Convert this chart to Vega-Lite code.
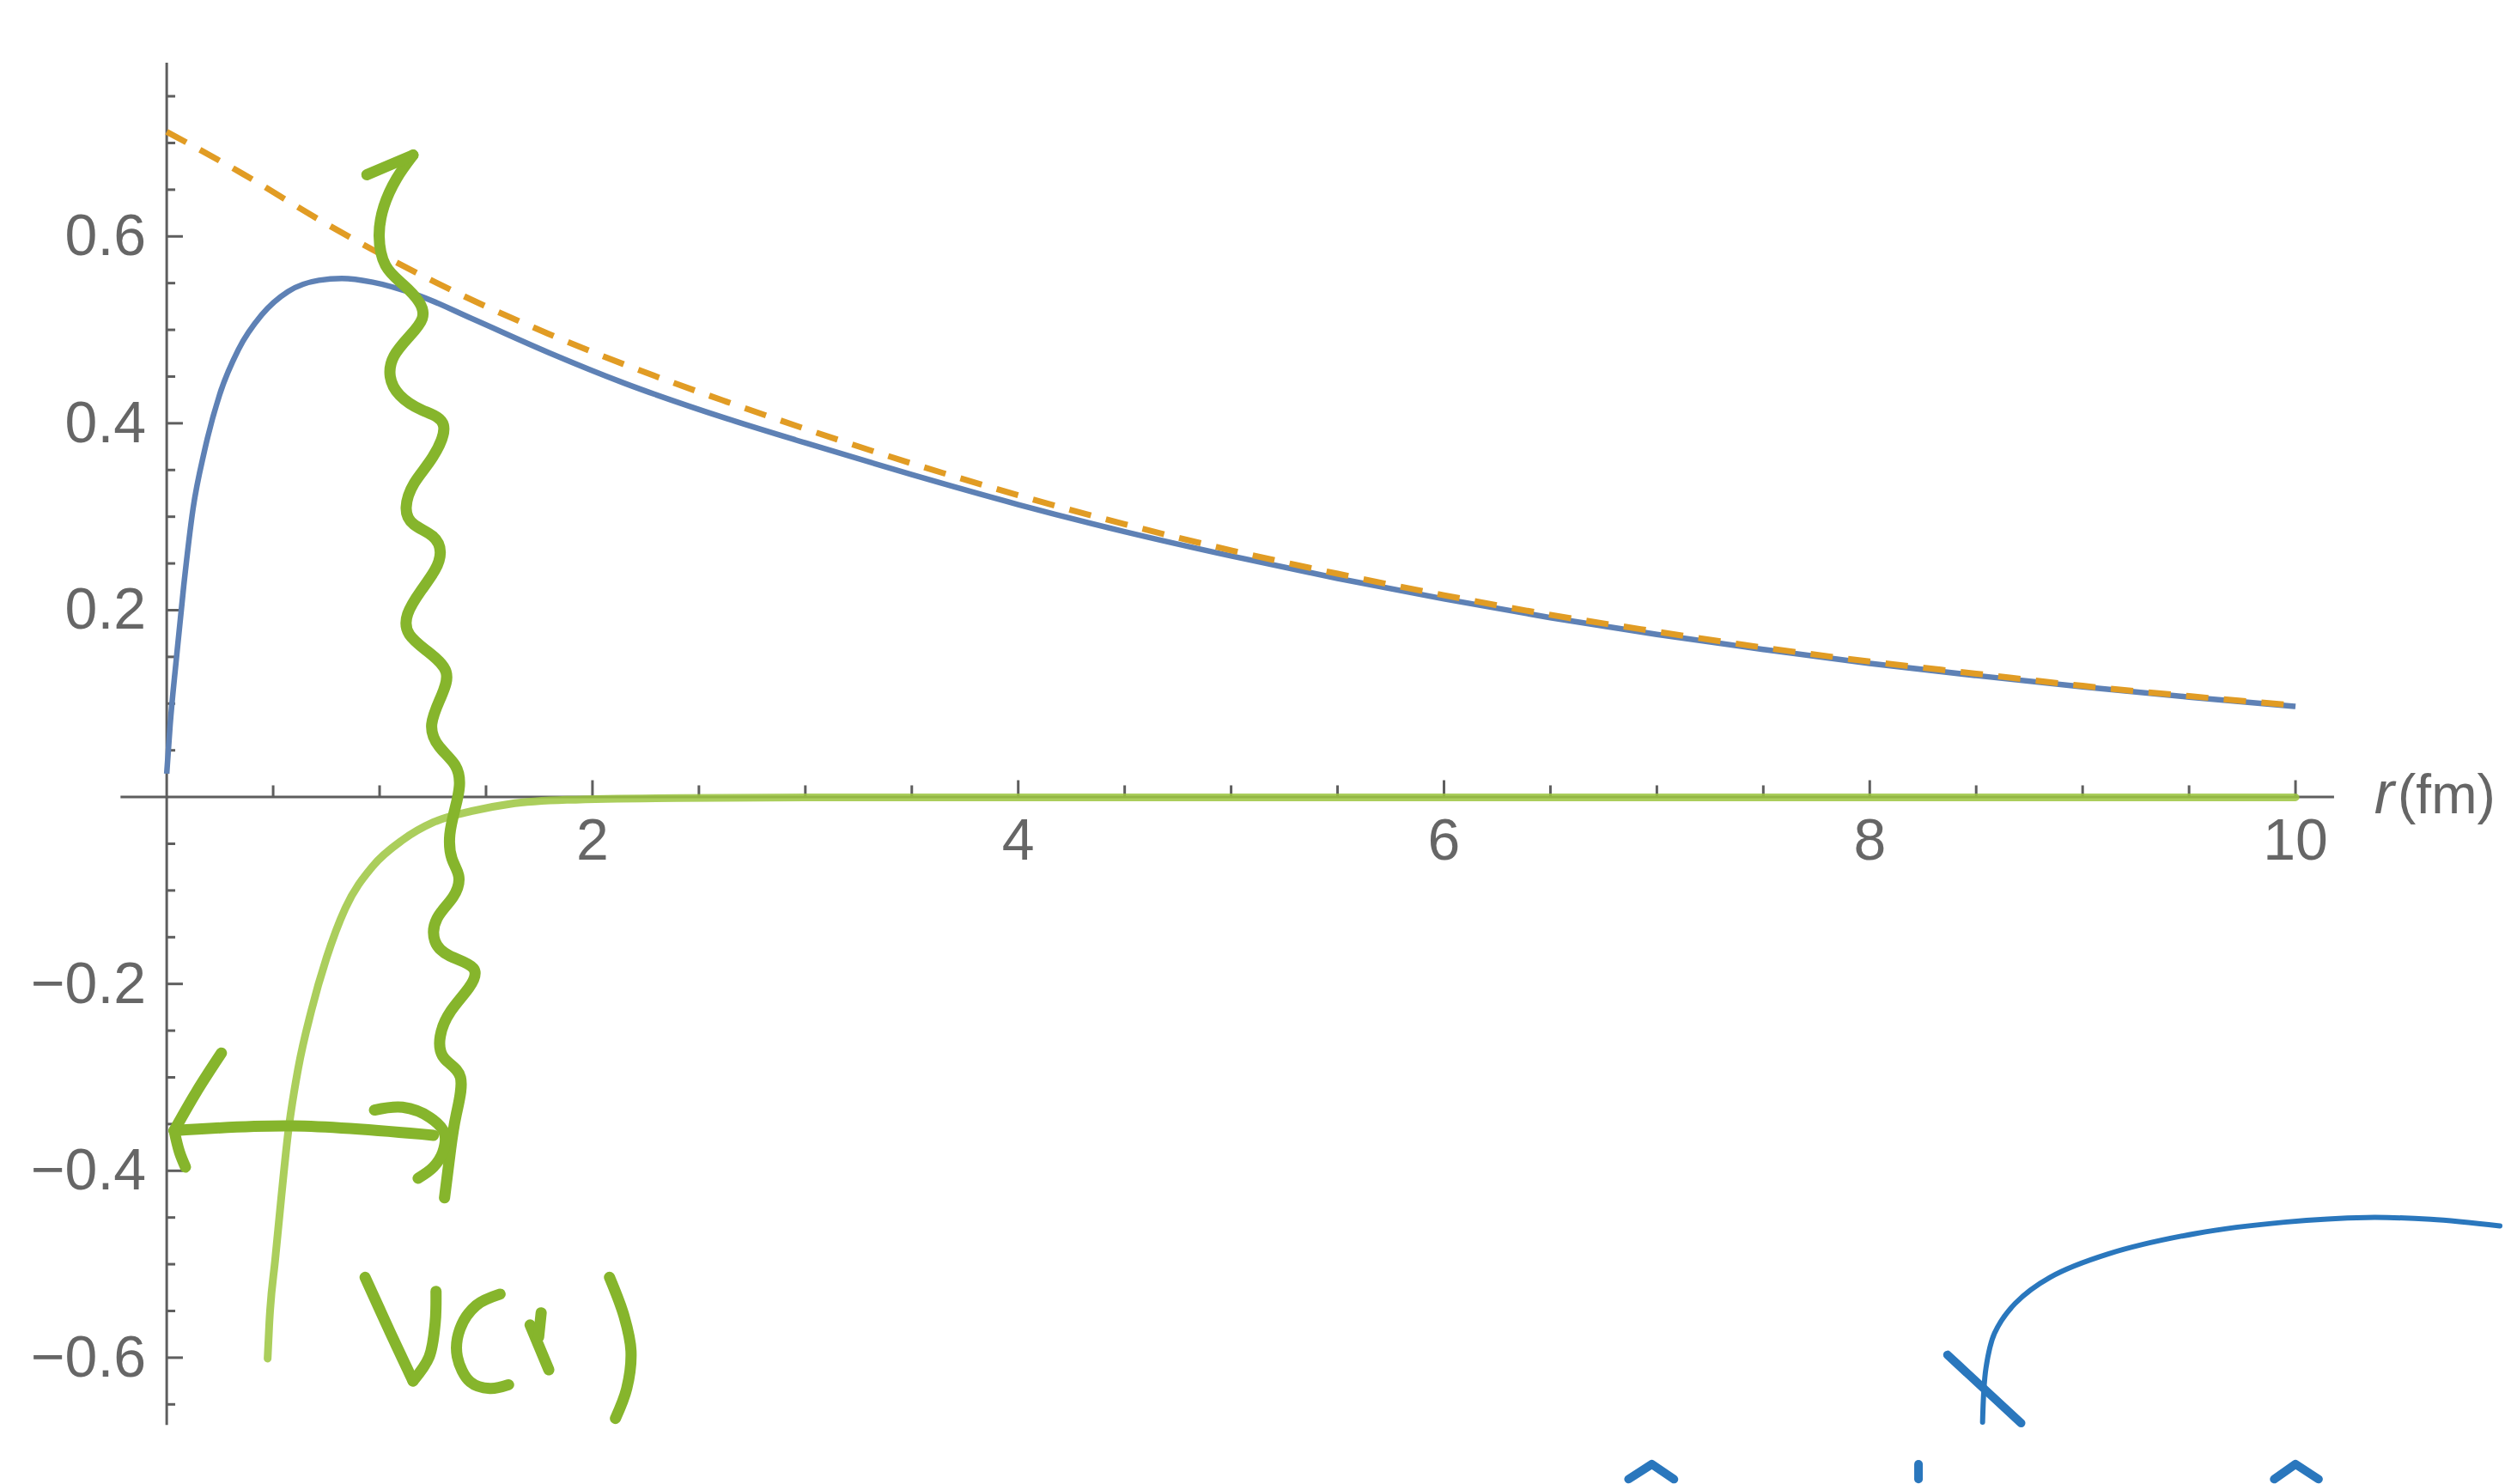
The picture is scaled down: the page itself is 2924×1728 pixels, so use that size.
{
  "$schema": "https://vega.github.io/schema/vega-lite/v6.json",
  "width": 2924,
  "height": 1728,
  "autosize": {"type": "fit", "contains": "padding"},
  "padding": 0,
  "background": "white",
  "config": {"view": {"stroke": null}},
  "datasets": {
    "axes": [
      {"r": -0.217, "v": 0, "r2": 10.181, "v2": 0},
      {"r": 0, "v": -0.672, "r2": 0, "v2": 0.786}
    ],
    "xticks": [
      {"r": 0.5, "v": 0, "k": "minor"}, {"r": 1, "v": 0, "k": "minor"}, {"r": 1.5, "v": 0, "k": "minor"},
      {"r": 2, "v": 0, "k": "major"},
      {"r": 2.5, "v": 0, "k": "minor"}, {"r": 3, "v": 0, "k": "minor"}, {"r": 3.5, "v": 0, "k": "minor"},
      {"r": 4, "v": 0, "k": "major"},
      {"r": 4.5, "v": 0, "k": "minor"}, {"r": 5, "v": 0, "k": "minor"}, {"r": 5.5, "v": 0, "k": "minor"},
      {"r": 6, "v": 0, "k": "major"},
      {"r": 6.5, "v": 0, "k": "minor"}, {"r": 7, "v": 0, "k": "minor"}, {"r": 7.5, "v": 0, "k": "minor"},
      {"r": 8, "v": 0, "k": "major"},
      {"r": 8.5, "v": 0, "k": "minor"}, {"r": 9, "v": 0, "k": "minor"}, {"r": 9.5, "v": 0, "k": "minor"},
      {"r": 10, "v": 0, "k": "major"}
    ],
    "yticks": [
      {"r": 0, "v": -0.65, "k": "minor"}, {"r": 0, "v": -0.6, "k": "major"}, {"r": 0, "v": -0.55, "k": "minor"},
      {"r": 0, "v": -0.5, "k": "minor"}, {"r": 0, "v": -0.45, "k": "minor"}, {"r": 0, "v": -0.4, "k": "major"},
      {"r": 0, "v": -0.35, "k": "minor"}, {"r": 0, "v": -0.3, "k": "minor"}, {"r": 0, "v": -0.25, "k": "minor"},
      {"r": 0, "v": -0.2, "k": "major"}, {"r": 0, "v": -0.15, "k": "minor"}, {"r": 0, "v": -0.1, "k": "minor"},
      {"r": 0, "v": -0.05, "k": "minor"}, {"r": 0, "v": 0.05, "k": "minor"}, {"r": 0, "v": 0.1, "k": "minor"},
      {"r": 0, "v": 0.15, "k": "minor"}, {"r": 0, "v": 0.2, "k": "major"}, {"r": 0, "v": 0.25, "k": "minor"},
      {"r": 0, "v": 0.3, "k": "minor"}, {"r": 0, "v": 0.35, "k": "minor"}, {"r": 0, "v": 0.4, "k": "major"},
      {"r": 0, "v": 0.45, "k": "minor"}, {"r": 0, "v": 0.5, "k": "minor"}, {"r": 0, "v": 0.55, "k": "minor"},
      {"r": 0, "v": 0.6, "k": "major"}, {"r": 0, "v": 0.65, "k": "minor"}, {"r": 0, "v": 0.7, "k": "minor"},
      {"r": 0, "v": 0.75, "k": "minor"}
    ],
    "xlabels": [
      {"r": 2, "v": 0, "label": "2"}, {"r": 4, "v": 0, "label": "4"}, {"r": 6, "v": 0, "label": "6"},
      {"r": 8, "v": 0, "label": "8"}, {"r": 10, "v": 0, "label": "10"}
    ],
    "ylabels": [
      {"r": 0, "v": 0.6, "label": "0.6"}, {"r": 0, "v": 0.4, "label": "0.4"}, {"r": 0, "v": 0.2, "label": "0.2"},
      {"r": 0, "v": -0.2, "label": "−0.2"}, {"r": 0, "v": -0.4, "label": "−0.4"}, {"r": 0, "v": -0.6, "label": "−0.6"}
    ],
    "curves": [
      {"series": "u", "r": 0, "v": 0.025}, {"series": "u", "r": 0.016, "v": 0.077}, {"series": "u", "r": 0.044, "v": 0.145},
      {"series": "u", "r": 0.08, "v": 0.226}, {"series": "u", "r": 0.124, "v": 0.309}, {"series": "u", "r": 0.177, "v": 0.37},
      {"series": "u", "r": 0.249, "v": 0.431}, {"series": "u", "r": 0.337, "v": 0.479}, {"series": "u", "r": 0.446, "v": 0.516},
      {"series": "u", "r": 0.57, "v": 0.541}, {"series": "u", "r": 0.715, "v": 0.553}, {"series": "u", "r": 0.823, "v": 0.555},
      {"series": "u", "r": 0.968, "v": 0.551}, {"series": "u", "r": 1.181, "v": 0.537}, {"series": "u", "r": 1.434, "v": 0.512},
      {"series": "u", "r": 1.791, "v": 0.476}, {"series": "u", "r": 2.149, "v": 0.443}, {"series": "u", "r": 2.631, "v": 0.405},
      {"series": "u", "r": 3.0, "v": 0.379}, {"series": "u", "r": 3.5, "v": 0.345}, {"series": "u", "r": 4.0, "v": 0.313},
      {"series": "u", "r": 4.5, "v": 0.284}, {"series": "u", "r": 5.0, "v": 0.258}, {"series": "u", "r": 5.5, "v": 0.234},
      {"series": "u", "r": 6.0, "v": 0.212}, {"series": "u", "r": 6.5, "v": 0.192}, {"series": "u", "r": 7.0, "v": 0.174},
      {"series": "u", "r": 7.5, "v": 0.158}, {"series": "u", "r": 8.0, "v": 0.143}, {"series": "u", "r": 8.5, "v": 0.13},
      {"series": "u", "r": 9.0, "v": 0.118}, {"series": "u", "r": 9.5, "v": 0.107}, {"series": "u", "r": 10.0, "v": 0.097},
      {"series": "asym", "r": 0, "v": 0.712}, {"series": "asym", "r": 0.357, "v": 0.667}, {"series": "asym", "r": 0.715, "v": 0.618},
      {"series": "asym", "r": 1.072, "v": 0.573}, {"series": "asym", "r": 1.434, "v": 0.532}, {"series": "asym", "r": 1.791, "v": 0.496},
      {"series": "asym", "r": 2.149, "v": 0.463}, {"series": "asym", "r": 2.631, "v": 0.423}, {"series": "asym", "r": 3.0, "v": 0.394},
      {"series": "asym", "r": 3.5, "v": 0.357}, {"series": "asym", "r": 4.0, "v": 0.323}, {"series": "asym", "r": 4.5, "v": 0.292},
      {"series": "asym", "r": 5.0, "v": 0.264}, {"series": "asym", "r": 5.5, "v": 0.239}, {"series": "asym", "r": 6.0, "v": 0.216},
      {"series": "asym", "r": 6.5, "v": 0.195}, {"series": "asym", "r": 7.0, "v": 0.177}, {"series": "asym", "r": 7.5, "v": 0.160},
      {"series": "asym", "r": 8.0, "v": 0.145}, {"series": "asym", "r": 8.5, "v": 0.132}, {"series": "asym", "r": 9.0, "v": 0.119},
      {"series": "asym", "r": 9.5, "v": 0.108}, {"series": "asym", "r": 10.0, "v": 0.098},
      {"series": "V", "r": 0.474, "v": -0.601}, {"series": "V", "r": 0.482, "v": -0.563}, {"series": "V", "r": 0.51, "v": -0.494},
      {"series": "V", "r": 0.538, "v": -0.429}, {"series": "V", "r": 0.57, "v": -0.36}, {"series": "V", "r": 0.618, "v": -0.29},
      {"series": "V", "r": 0.679, "v": -0.229}, {"series": "V", "r": 0.751, "v": -0.172}, {"series": "V", "r": 0.839, "v": -0.119},
      {"series": "V", "r": 0.968, "v": -0.074}, {"series": "V", "r": 1.108, "v": -0.046}, {"series": "V", "r": 1.253, "v": -0.027},
      {"series": "V", "r": 1.434, "v": -0.015}, {"series": "V", "r": 1.61, "v": -0.0075}, {"series": "V", "r": 1.88, "v": -0.003},
      {"series": "V", "r": 2.4, "v": -0.001}, {"series": "V", "r": 3.0, "v": -0.0005}, {"series": "V", "r": 10.0, "v": -0.0003}
    ],
    "greenInk": [
      {"s": "barb", "i": 0, "r": 0.94, "v": 0.666}, {"s": "barb", "i": 1, "r": 1.157, "v": 0.687},
      {"s": "harrow", "i": 0, "r": 0.035, "v": -0.357}, {"s": "harrow", "i": 1, "r": 0.59, "v": -0.352}, {"s": "harrow", "i": 2, "r": 1.253, "v": -0.362},
      {"s": "lhead1", "i": 0, "r": 0.257, "v": -0.274}, {"s": "lhead1", "i": 1, "r": 0.141, "v": -0.315}, {"s": "lhead1", "i": 2, "r": 0.035, "v": -0.357},
      {"s": "lhead2", "i": 0, "r": 0.035, "v": -0.357}, {"s": "lhead2", "i": 1, "r": 0.06, "v": -0.38}, {"s": "lhead2", "i": 2, "r": 0.088, "v": -0.396},
      {"s": "rhead", "i": 0, "r": 0.976, "v": -0.335}, {"s": "rhead", "i": 1, "r": 1.108, "v": -0.332}, {"s": "rhead", "i": 2, "r": 1.237, "v": -0.343},
      {"s": "rhead", "i": 3, "r": 1.305, "v": -0.36}, {"s": "rhead", "i": 4, "r": 1.297, "v": -0.38}, {"s": "rhead", "i": 5, "r": 1.253, "v": -0.396},
      {"s": "rhead", "i": 6, "r": 1.181, "v": -0.408},
      {"s": "V1", "i": 0, "r": 0.932, "v": -0.514}, {"s": "V1", "i": 1, "r": 1.052, "v": -0.574}, {"s": "V1", "i": 2, "r": 1.157, "v": -0.625},
      {"s": "V2", "i": 0, "r": 1.157, "v": -0.625}, {"s": "V2", "i": 1, "r": 1.233, "v": -0.599}, {"s": "V2", "i": 2, "r": 1.261, "v": -0.563},
      {"s": "V2", "i": 3, "r": 1.265, "v": -0.529},
      {"s": "lp", "i": 0, "r": 1.566, "v": -0.532}, {"s": "lp", "i": 1, "r": 1.454, "v": -0.544}, {"s": "lp", "i": 2, "r": 1.378, "v": -0.569},
      {"s": "lp", "i": 3, "r": 1.365, "v": -0.599}, {"s": "lp", "i": 4, "r": 1.426, "v": -0.626}, {"s": "lp", "i": 5, "r": 1.518, "v": -0.633},
      {"s": "lp", "i": 6, "r": 1.606, "v": -0.629},
      {"s": "r1", "i": 0, "r": 1.707, "v": -0.565}, {"s": "r1", "i": 1, "r": 1.795, "v": -0.613},
      {"s": "r2", "i": 0, "r": 1.759, "v": -0.552}, {"s": "r2", "i": 1, "r": 1.747, "v": -0.578},
      {"s": "rp", "i": 0, "r": 2.08, "v": -0.514}, {"s": "rp", "i": 1, "r": 2.149, "v": -0.556}, {"s": "rp", "i": 2, "r": 2.181, "v": -0.593},
      {"s": "rp", "i": 3, "r": 2.161, "v": -0.633}, {"s": "rp", "i": 4, "r": 2.108, "v": -0.665}
    ],
    "greenWave": [
      {"s": "wave", "i": 0, "r": 1.157, "v": 0.687}, {"s": "wave", "i": 1, "r": 1.08, "v": 0.662}, {"s": "wave", "i": 2, "r": 1.02, "v": 0.632},
      {"s": "wave", "i": 3, "r": 0.998, "v": 0.6}, {"s": "wave", "i": 4, "r": 1.028, "v": 0.569}, {"s": "wave", "i": 5, "r": 1.108, "v": 0.549},
      {"s": "wave", "i": 6, "r": 1.185, "v": 0.53}, {"s": "wave", "i": 7, "r": 1.2, "v": 0.512}, {"s": "wave", "i": 8, "r": 1.14, "v": 0.493},
      {"s": "wave", "i": 9, "r": 1.068, "v": 0.472}, {"s": "wave", "i": 10, "r": 1.05, "v": 0.45}, {"s": "wave", "i": 11, "r": 1.095, "v": 0.43},
      {"s": "wave", "i": 12, "r": 1.2, "v": 0.414}, {"s": "wave", "i": 13, "r": 1.3, "v": 0.398},
      {"s": "wave", "i": 14, "r": 1.25, "v": 0.364}, {"s": "wave", "i": 15, "r": 1.163, "v": 0.336}, {"s": "wave", "i": 16, "r": 1.125, "v": 0.31},
      {"s": "wave", "i": 17, "r": 1.16, "v": 0.292}, {"s": "wave", "i": 18, "r": 1.25, "v": 0.279}, {"s": "wave", "i": 19, "r": 1.285, "v": 0.262},
      {"s": "wave", "i": 20, "r": 1.26, "v": 0.243}, {"s": "wave", "i": 21, "r": 1.195, "v": 0.221}, {"s": "wave", "i": 22, "r": 1.132, "v": 0.196},
      {"s": "wave", "i": 23, "r": 1.14, "v": 0.174}, {"s": "wave", "i": 24, "r": 1.23, "v": 0.155}, {"s": "wave", "i": 25, "r": 1.312, "v": 0.134},
      {"s": "wave", "i": 26, "r": 1.29, "v": 0.108}, {"s": "wave", "i": 27, "r": 1.245, "v": 0.078}, {"s": "wave", "i": 28, "r": 1.28, "v": 0.054},
      {"s": "wave", "i": 29, "r": 1.355, "v": 0.034}, {"s": "wave", "i": 30, "r": 1.375, "v": 0.012}, {"s": "wave", "i": 31, "r": 1.355, "v": -0.012},
      {"s": "wave", "i": 32, "r": 1.33, "v": -0.04}, {"s": "wave", "i": 33, "r": 1.34, "v": -0.066}, {"s": "wave", "i": 34, "r": 1.372, "v": -0.085},
      {"s": "wave", "i": 35, "r": 1.345, "v": -0.107}, {"s": "wave", "i": 36, "r": 1.27, "v": -0.13}, {"s": "wave", "i": 37, "r": 1.26, "v": -0.154},
      {"s": "wave", "i": 38, "r": 1.33, "v": -0.17}, {"s": "wave", "i": 39, "r": 1.44, "v": -0.183}, {"s": "wave", "i": 40, "r": 1.42, "v": -0.204},
      {"s": "wave", "i": 41, "r": 1.335, "v": -0.229}, {"s": "wave", "i": 42, "r": 1.285, "v": -0.256}, {"s": "wave", "i": 43, "r": 1.305, "v": -0.28},
      {"s": "wave", "i": 44, "r": 1.38, "v": -0.3}, {"s": "wave", "i": 45, "r": 1.36, "v": -0.34}, {"s": "wave", "i": 46, "r": 1.333, "v": -0.378},
      {"s": "wave", "i": 47, "r": 1.305, "v": -0.429}
    ],
    "blueArc": [
      {"s": "arc", "i": 0, "r": 10.96, "v": -0.459}, {"s": "arc", "i": 1, "r": 10.635, "v": -0.452}, {"s": "arc", "i": 2, "r": 10.333, "v": -0.45},
      {"s": "arc", "i": 3, "r": 9.948, "v": -0.455}, {"s": "arc", "i": 4, "r": 9.534, "v": -0.467}, {"s": "arc", "i": 5, "r": 9.12, "v": -0.489},
      {"s": "arc", "i": 6, "r": 8.847, "v": -0.514}, {"s": "arc", "i": 7, "r": 8.683, "v": -0.542}, {"s": "arc", "i": 8, "r": 8.586, "v": -0.574},
      {"s": "arc", "i": 9, "r": 8.546, "v": -0.611}, {"s": "arc", "i": 10, "r": 8.53, "v": -0.669}
    ],
    "blueMarks": [
      {"s": "head", "i": 0, "r": 8.365, "v": -0.597}, {"s": "head", "i": 1, "r": 8.711, "v": -0.67},
      {"s": "f1", "i": 0, "r": 6.867, "v": -0.73}, {"s": "f1", "i": 1, "r": 6.976, "v": -0.714}, {"s": "f1", "i": 2, "r": 7.08, "v": -0.73},
      {"s": "f2", "i": 0, "r": 8.229, "v": -0.714}, {"s": "f2", "i": 1, "r": 8.229, "v": -0.73},
      {"s": "f3", "i": 0, "r": 9.9, "v": -0.73}, {"s": "f3", "i": 1, "r": 10.0, "v": -0.714}, {"s": "f3", "i": 2, "r": 10.108, "v": -0.73}
    ]
  },
  "encoding": {
    "x": {"field": "r", "type": "quantitative", "scale": {"domain": [-0.7831, 10.9598], "nice": false, "zero": false}, "axis": null},
    "y": {"field": "v", "type": "quantitative", "scale": {"domain": [-0.7251, 0.853], "nice": false, "zero": false}, "axis": null}
  },
  "layer": [
    {
      "data": {"values": [{}]},
      "mark": {"type": "rect", "color": "#ebebeb"},
      "encoding": {
        "x": {"datum": -0.7831}, "x2": {"datum": 10.9598},
        "y": {"datum": 0.8412}, "y2": {"datum": 0.853}
      }
    },
    {
      "data": {"name": "axes"},
      "mark": {"type": "rule", "color": "#5e5e5e", "strokeWidth": 3},
      "encoding": {"x2": {"field": "r2"}, "y2": {"field": "v2"}}
    },
    {
      "data": {"name": "xticks"},
      "transform": [{"filter": "datum.k === 'major'"}],
      "mark": {"type": "rule", "color": "#5e5e5e", "strokeWidth": 3},
      "encoding": {"y2": {"datum": 0.018}}
    },
    {
      "data": {"name": "xticks"},
      "transform": [{"filter": "datum.k === 'minor'"}],
      "mark": {"type": "rule", "color": "#5e5e5e", "strokeWidth": 3},
      "encoding": {"y2": {"datum": 0.0125}}
    },
    {
      "data": {"name": "yticks"},
      "transform": [{"filter": "datum.k === 'major'"}],
      "mark": {"type": "rule", "color": "#5e5e5e", "strokeWidth": 3},
      "encoding": {"x2": {"datum": 0.076}}
    },
    {
      "data": {"name": "yticks"},
      "transform": [{"filter": "datum.k === 'minor'"}],
      "mark": {"type": "rule", "color": "#5e5e5e", "strokeWidth": 3},
      "encoding": {"x2": {"datum": 0.04}}
    },
    {
      "data": {"name": "xlabels"},
      "mark": {"type": "text", "font": "Liberation Sans", "fontSize": 68, "color": "#666666", "align": "center", "baseline": "alphabetic", "dy": 73},
      "encoding": {"text": {"field": "label"}}
    },
    {
      "data": {"name": "ylabels"},
      "mark": {"type": "text", "font": "Liberation Sans", "fontSize": 68, "color": "#666666", "align": "right", "baseline": "alphabetic", "dx": -24, "dy": 22},
      "encoding": {"text": {"field": "label"}}
    },
    {
      "data": {"values": [{"r": 10.37, "v": -0.0174, "label": "r"}]},
      "mark": {"type": "text", "font": "Liberation Sans", "fontSize": 70, "fontStyle": "italic", "color": "#666666", "align": "left", "baseline": "alphabetic"},
      "encoding": {"text": {"field": "label"}}
    },
    {
      "data": {"values": [{"r": 10.48, "v": -0.0174, "label": "(fm)"}]},
      "mark": {"type": "text", "font": "Liberation Sans", "fontSize": 64, "color": "#666666", "align": "left", "baseline": "alphabetic"},
      "encoding": {"text": {"field": "label"}}
    },
    {
      "data": {"name": "curves"},
      "transform": [{"filter": "datum.series === 'V'"}],
      "mark": {"type": "line", "color": "#9cc53f", "strokeWidth": 9, "opacity": 0.85, "interpolate": "monotone", "strokeCap": "round"},
      "encoding": {}
    },
    {
      "data": {"name": "curves"},
      "transform": [{"filter": "datum.series === 'u'"}],
      "mark": {"type": "line", "color": "#5e81b5", "strokeWidth": 6.5, "interpolate": "monotone"},
      "encoding": {}
    },
    {
      "data": {"name": "curves"},
      "transform": [{"filter": "datum.series === 'asym'"}],
      "mark": {"type": "line", "color": "#e19c24", "strokeWidth": 7, "strokeDash": [26, 18], "interpolate": "monotone"},
      "encoding": {}
    },
    {
      "data": {"name": "greenWave"},
      "mark": {"type": "line", "color": "#86b52c", "strokeWidth": 13, "interpolate": "natural", "strokeCap": "round", "strokeJoin": "round"},
      "encoding": {"detail": {"field": "s"}, "order": {"field": "i", "type": "quantitative"}}
    },
    {
      "data": {"name": "greenInk"},
      "mark": {"type": "line", "color": "#86b52c", "strokeWidth": 13, "interpolate": "catmull-rom", "strokeCap": "round", "strokeJoin": "round"},
      "encoding": {"detail": {"field": "s"}, "order": {"field": "i", "type": "quantitative"}}
    },
    {
      "data": {"name": "blueArc"},
      "mark": {"type": "line", "color": "#2a77bd", "strokeWidth": 6, "interpolate": "catmull-rom", "strokeCap": "round"},
      "encoding": {"detail": {"field": "s"}, "order": {"field": "i", "type": "quantitative"}}
    },
    {
      "data": {"name": "blueMarks"},
      "mark": {"type": "line", "color": "#2a77bd", "strokeWidth": 10, "interpolate": "linear", "strokeCap": "round", "strokeJoin": "round"},
      "encoding": {"detail": {"field": "s"}, "order": {"field": "i", "type": "quantitative"}}
    }
  ]
}
